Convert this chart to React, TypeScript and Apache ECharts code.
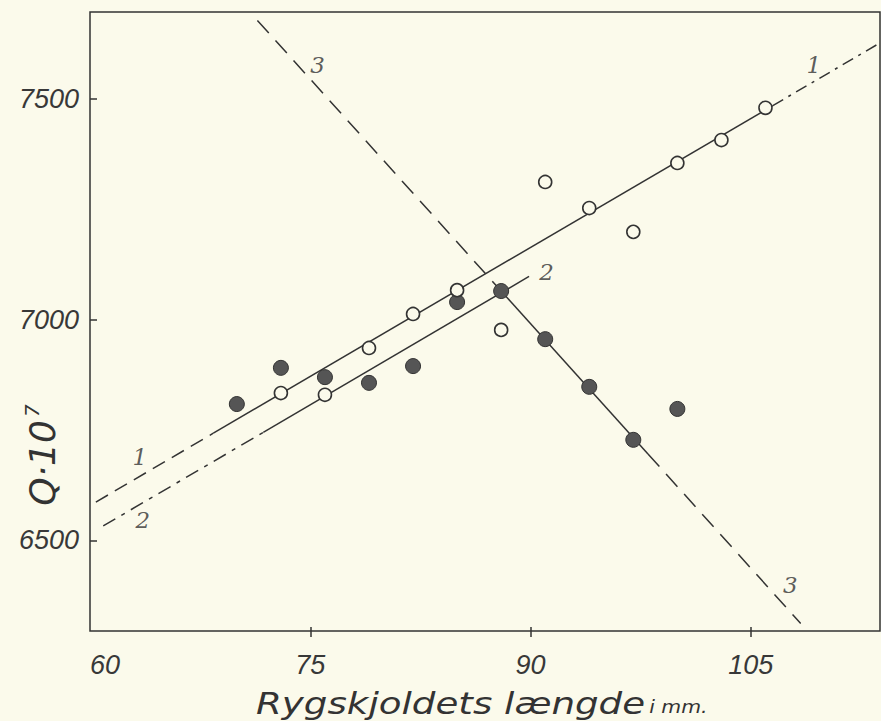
import React, { useEffect, useRef } from "react";
import * as echarts from "echarts";

// x-axis: Rygskjoldets længde (mm), y-axis: Q·10^7
const xTicks = [60, 75, 90, 105];
const yTicks = [6500, 7000, 7500];

// open circles (series 1)
const openX = [73, 76, 79, 82, 85, 88, 91, 94, 97, 100, 103, 106];
const openY = [6834, 6830, 6936, 7013, 7067, 6977, 7312, 7253, 7199, 7355, 7407, 7480];

// filled circles
const filledX = [70, 73, 76, 79, 82, 85, 88, 91, 94, 97, 100];
const filledY = [6809, 6891, 6870, 6857, 6895, 7040, 7065, 6956, 6848, 6728, 6798];

// fitted lines (endpoints)
const line1DashL = [[60.4, 6587], [68.4, 6743]];
const line1Solid = [[68.4, 6743], [106.5, 7485]];
const line1DashR = [[106.5, 7485], [113.8, 7627]];
const line2DashL = [[60.9, 6533], [71.8, 6745]];
const line2Solid = [[71.8, 6745], [89.9, 7098]];
const line3DashT = [[71.4, 7678], [88, 7065]];
const line3Solid = [[88, 7065], [98, 6696]];
const line3DashB = [[98, 6696], [108.4, 6312]];

// line labels
const lineLabelNames = ["1", "1", "2", "2", "3", "3"];
const lineLabelX = [109.3, 63.4, 63.6, 91.1, 75.5, 107.7];
const lineLabelY = [7577, 6689, 6546, 7108, 7577, 6399];

const INK = "#333333";
const BG = "#fbfaeb";

function lineSeries(data: number[][], dash: any) {
  return {
    type: "line",
    data,
    symbol: "none",
    z: 2,
    lineStyle: { color: INK, width: 1.5, type: dash },
    silent: true,
  };
}

export default function App() {
  const ref = useRef<HTMLDivElement>(null);
  useEffect(() => {
    document.body.style.margin = "0";
    const chart = echarts.init(ref.current!, null, { renderer: "svg" });
    const tickFont = {
      fontFamily: "Liberation Sans",
      fontStyle: "italic",
      fontSize: 27,
      color: "#383838",
    };
    chart.setOption({
      animation: false,
      backgroundColor: BG,
      grid: {
        left: 90,
        right: 1,
        top: 12,
        bottom: 90,
        show: true,
        borderColor: INK,
        borderWidth: 1.5,
        backgroundColor: "transparent",
      },
      xAxis: [
        {
          type: "value",
          min: 60,
          max: 113.8,
          splitLine: { show: false },
          axisLine: { show: false },
          axisTick: {
            show: true,
            length: 6,
            lineStyle: { color: INK, width: 1.5 },
            customValues: [75, 90, 105],
          },
          axisLabel: {
            ...tickFont,
            margin: 20,
            customValues: xTicks,
            alignMinLabel: "left",
            formatter: (v: number) => String(v),
          },
        },
        {
          type: "value",
          position: "bottom",
          min: 60,
          max: 113.8,
          splitLine: { show: false },
          axisLine: { show: false },
          axisTick: {
            show: true,
            inside: true,
            length: 4,
            lineStyle: { color: INK, width: 1.5 },
            customValues: [75, 90, 105],
          },
          axisLabel: { show: false },
        },
      ],
      yAxis: {
        type: "value",
        min: 6295,
        max: 7697,
        splitLine: { show: false },
        axisLine: { show: false },
        axisTick: {
          show: true,
          inside: true,
          length: 7,
          lineStyle: { color: INK, width: 1.5 },
          customValues: yTicks,
        },
        axisLabel: {
          ...tickFont,
          margin: 11,
          customValues: yTicks,
          formatter: (v: number) => String(v),
        },
      },
      graphic: [
        {
          type: "text",
          x: 256,
          y: 703,
          scaleX: 1.2,
          style: {
            text: "{a|Rygskjoldets længde} {b|i mm.}",
            textAlign: "left",
            textVerticalAlign: "middle",
            fill: INK,
            rich: {
              a: {
                fontFamily: "DejaVu Sans",
                fontStyle: "italic",
                fontSize: 31,
                fill: INK,
                color: INK,
              },
              b: {
                fontFamily: "DejaVu Sans",
                fontStyle: "italic",
                fontSize: 17,
                fill: INK,
                color: INK,
                padding: [8, 0, 0, 0],
              },
            },
          },
        },
        {
          type: "text",
          x: 42,
          y: 455,
          rotation: Math.PI / 2,
          style: {
            text: "{a|Q·10}{b|7}",
            textAlign: "center",
            textVerticalAlign: "middle",
            fill: INK,
            rich: {
              a: {
                fontFamily: "DejaVu Sans",
                fontStyle: "italic",
                fontSize: 36,
                fill: INK,
                color: INK,
              },
              b: {
                fontFamily: "DejaVu Sans",
                fontStyle: "italic",
                fontSize: 20,
                fill: INK,
                color: INK,
                padding: [0, 0, 20, 3],
              },
            },
          },
        },
      ],
      series: [
        lineSeries(line1DashL, [14, 8]),
        lineSeries(line1Solid, "solid"),
        lineSeries(line1DashR, [12, 6, 3, 6]),
        lineSeries(line2DashL, [14, 7, 4, 7]),
        lineSeries(line2Solid, "solid"),
        lineSeries(line3DashT, [17, 10]),
        lineSeries(line3Solid, "solid"),
        lineSeries(line3DashB, [17, 10]),
        {
          type: "scatter",
          z: 5,
          symbol: "circle",
          symbolSize: 15,
          data: filledX.map((x, i) => [x, filledY[i]]),
          itemStyle: { color: "#555555", borderColor: "#333", borderWidth: 1, opacity: 1 },
          silent: true,
        },
        {
          type: "scatter",
          z: 6,
          symbol: "circle",
          symbolSize: 13,
          data: openX.map((x, i) => [x, openY[i]]),
          itemStyle: { color: BG, borderColor: "#333", borderWidth: 1.6, opacity: 1 },
          silent: true,
        },
        {
          type: "scatter",
          z: 7,
          symbolSize: 1,
          itemStyle: { color: "transparent" },
          data: lineLabelNames.map((n, i) => ({ name: n, value: [lineLabelX[i], lineLabelY[i]] })),
          label: {
            show: true,
            position: "inside",
            formatter: "{b}",
            fontFamily: "DejaVu Serif",
            fontStyle: "italic",
            fontSize: 23,
            color: "#333",
          },
          silent: true,
        },
      ],
    });
    return () => chart.dispose();
  }, []);
  return (
    <div
      ref={ref}
      style={{ position: "fixed", left: 0, top: 0, width: 881, height: 721, background: BG }}
    />
  );
}
